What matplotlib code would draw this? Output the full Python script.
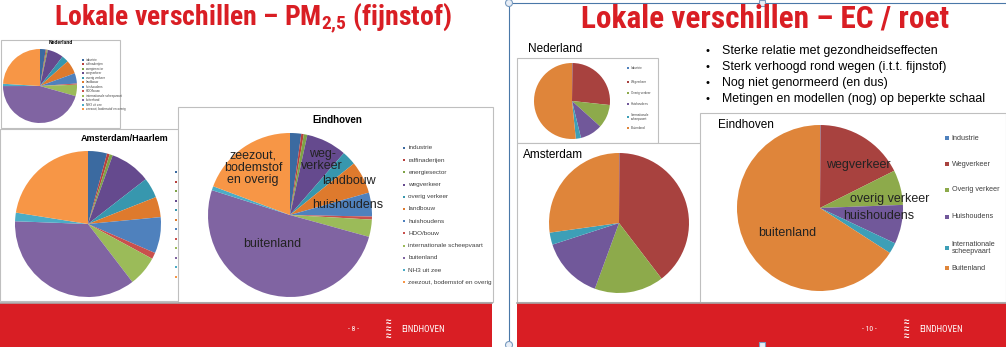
import matplotlib
matplotlib.use('Agg')
import matplotlib.pyplot as plt
from matplotlib import font_manager
from matplotlib.patches import Rectangle, Circle

# PM2.5 source shares (%)
pm_cats = ['industrie', 'raffinaderijen', 'energiesector', 'wegverkeer',
           'overig verkeer', 'landbouw', 'huishoudens', 'HDO/bouw',
           'internationale scheepvaart', 'buitenland', 'NH3 uit zee',
           'zeezout, bodemstof en overig']
pm_nl = [2.5, 0.4, 0.5, 7.0, 3.0, 6.0, 4.5, 0.5, 5.0, 45.5, 1.0, 24.0]
pm_ah = [4.2, 0.6, 0.7, 9.0, 4.5, 4.5, 8.0, 1.4, 6.7, 36.0, 1.9, 22.5]
pm_ehv = [2.2, 0.5, 0.7, 8.0, 2.8, 6.4, 4.7, 0.6, 3.4, 50.6, 0.8, 19.3]
pm_colors = ['#3B6AA0', '#B7403D', '#7EA346', '#654A8E', '#3797AE', '#DE7A2D',
             '#4F81BD', '#C9504D', '#9BBB59', '#8064A2', '#4BACC6', '#F79646']

# EC / roet source shares (%)
ec_cats = ['Industrie', 'Wegverkeer', 'Overig verkeer', 'Huishoudens',
           'Internationale\nscheepvaart', 'Buitenland']
ec_nl = [0.2, 26.5, 10.0, 9.5, 2.2, 51.6]
ec_ams = [0.1, 39.5, 16.0, 14.4, 2.8, 27.2]
ec_ehv = [0.1, 17.5, 6.8, 7.6, 2.1, 65.9]
ec_colors = ['#4F81BD', '#A8423F', '#8DAA4B', '#71589A', '#3D9FB7', '#DF853A']

bullets = ['Sterke relatie met gezondheidseffecten',
           'Sterk verhoogd rond wegen (i.t.t. fijnstof)',
           'Nog niet genormeerd (en dus)',
           'Metingen en modellen (nog) op beperkte schaal']

W, H = 1006, 347
RED = '#D91E24'
GRID = '#BFBFBF'

# use a narrow face for the slide titles if there is one
installed = {f.name for f in font_manager.fontManager.ttflist}
narrow = [n for n in ('Liberation Sans Narrow', 'Arial Narrow',
                      'Roboto Condensed', 'DejaVu Sans Condensed')
          if n in installed]
TITLE_FONT = narrow[0] if narrow else 'Liberation Sans'
scale = 1.0 if narrow else 0.82
NARROW = [TITLE_FONT, 'DejaVu Sans']
SANS = ['Liberation Sans', 'DejaVu Sans']
plt.rcParams['mathtext.fontset'] = 'custom'
plt.rcParams['mathtext.rm'] = TITLE_FONT + ':bold'
plt.rcParams['mathtext.it'] = TITLE_FONT + ':bold'

fig = plt.figure(figsize=(W / 100, H / 100), dpi=100)
bg = fig.add_axes([0, 0, 1, 1])
bg.set_xlim(0, W)
bg.set_ylim(H, 0)
bg.axis('off')


def txt(x, y, s, **kw):
    return fig.text(x / W, 1 - y / H, s, **kw)


def box(x0, y0, x1, y1, z=1):
    bg.add_patch(Rectangle((x0, y0), x1 - x0, y1 - y0, fc='white',
                           ec=GRID, lw=0.8, zorder=z))


def pie_at(cx, cy, r, values, colors):
    ax = fig.add_axes([(cx - r) / W, (H - cy - r) / H, 2 * r / W, 2 * r / H])
    ax.pie(values, colors=colors, startangle=90, counterclock=False,
           radius=1, wedgeprops=dict(linewidth=0))
    ax.set_xlim(-1, 1)
    ax.set_ylim(-1, 1)
    ax.axis('off')
    return ax


def legend_at(x, ys, labels, colors, size, ms):
    for y, lab, c in zip(ys, labels, colors):
        bg.scatter([x], [y], marker='s', s=ms, color=c, zorder=5, lw=0)
        if lab:
            txt(x + size * 0.5 + 2, y, lab, fontsize=size, va='center',
                ha='left', color='#404040', family=SANS, linespacing=1.0)


# ---- left slide: PM2.5 ----
box(1, 40, 120, 128)
box(0, 129, 200, 301)
box(178, 107, 493, 302, z=2)

pie_at(40, 86, 37, pm_nl, pm_colors)
txt(61, 43, 'Nederland', fontsize=3.5, weight='bold', ha='center',
    va='center', family=SANS)
ys = [60 + i * 4.45 for i in range(12)]
legend_at(83, ys, pm_cats, pm_colors, 2.2, 1.5)

pie_at(88, 224, 73, pm_ah, pm_colors)
txt(125, 139, 'Amsterdam/Haarlem', fontsize=6.5, weight='bold', ha='center',
    va='center', family=SANS)
ys = [172 + i * 9.5 for i in range(12)]
legend_at(176, ys, [''] * 12, pm_colors, 3, 3)

pie_at(290, 215, 82, pm_ehv, pm_colors)
txt(337, 120, 'Eindhoven', fontsize=7, weight='bold', ha='center',
    va='center', family=SANS)
ys = [148 + i * 12.2 for i in range(12)]
legend_at(404, ys, pm_cats, pm_colors, 4.6, 4)

lab_kw = dict(fontsize=9, ha='center', va='center', family=SANS,
              color='#222222', linespacing=0.95)
txt(253, 168, 'zeezout,\nbodemstof\nen overig', **lab_kw)
txt(322, 160, 'weg-\nverkeer', **lab_kw)
txt(349, 181, 'landbouw', **lab_kw)
txt(348, 205, 'huishoudens', **lab_kw)
txt(272, 244, 'buitenland', **lab_kw)

txt(253, 18, r'Lokale verschillen – PM$_{2{,}5}$ (fijnstof)',
    fontsize=20 * scale, weight='bold', color=RED, ha='center', va='center',
    family=NARROW)

# ---- right slide: EC / roet ----
box(517, 58, 658, 143)
box(517, 143, 701, 302)
box(700, 113, 1006, 302)

pie_at(572, 101, 38, ec_nl, ec_colors)
txt(528, 49, 'Nederland', fontsize=8.5, ha='left', va='center', family=SANS)
legend_at(628, [68, 82, 93, 104, 117, 128], ec_cats, ec_colors, 2.2, 1.5)

pie_at(619, 223, 70, ec_ams, ec_colors)
txt(523, 155, 'Amsterdam', fontsize=8.5, ha='left', va='center', family=SANS)

pie_at(820, 208, 83, ec_ehv, ec_colors)
txt(718, 125, 'Eindhoven', fontsize=8.5, ha='left', va='center', family=SANS)
legend_at(947, [138, 164, 190, 217, 248, 268], ec_cats, ec_colors, 5.2, 5)

txt(858, 165, 'wegverkeer', **lab_kw)
txt(890, 199, 'overig verkeer', **lab_kw)
txt(879, 216, 'huishoudens', **lab_kw)
txt(787, 233, 'buitenland', **lab_kw)

for i, b in enumerate(bullets):
    y = 51 + i * 16
    txt(708, y, '•', fontsize=8, ha='center', va='center', family=SANS)
    txt(722, y, b, fontsize=8.9, ha='left', va='center', family=SANS)

txt(765, 18, 'Lokale verschillen – EC / roet', fontsize=22.5 * scale,
    weight='bold', color=RED, ha='center', va='center', family=NARROW)

# ---- footers ----
bg.add_patch(Rectangle((0, 303), 492, 44, fc=RED, ec='none', zorder=6))
bg.add_patch(Rectangle((517, 303), 489, 44, fc=RED, ec='none', zorder=6))
bg.plot([0, 492], [302.5, 302.5], color='#A8A8A8', lw=1.2, zorder=6)
bg.plot([517, 1006], [302.5, 302.5], color='#A8A8A8', lw=1.2, zorder=6)
for num, xn, xl in [('- 8 -', 353, 388), ('- 10 -', 869, 906)]:
    txt(xn, 329, num, fontsize=5.5, color='white', ha='center', va='center',
        family=NARROW)
    txt(xl, 329, '≈\n≈\n≈', fontsize=7, color='white', ha='center',
        va='center', weight='bold', linespacing=0.6, family=SANS)
    txt(xl + 13, 329, 'EINDHOVEN', fontsize=6.5, color='white', ha='left',
        va='center', family=NARROW)

# ---- slide selection frame ----
sel = '#4A78A8'
bg.plot([509, 509], [3, 347], color=sel, lw=0.8, zorder=7)
bg.plot([509, 1006], [3, 3], color=sel, lw=0.8, zorder=7)
for cy in (3, 345):
    bg.add_patch(Circle((509, cy), 3.5, fc='#E8EEF6', ec='#7A9CC0', lw=0.8,
                        zorder=8))
    bg.add_patch(Rectangle((759, cy - 3), 6, 6, fc='#E8EEF6', ec='#7A9CC0',
                           lw=0.8, zorder=8))

fig.savefig('out.png', dpi=100)
